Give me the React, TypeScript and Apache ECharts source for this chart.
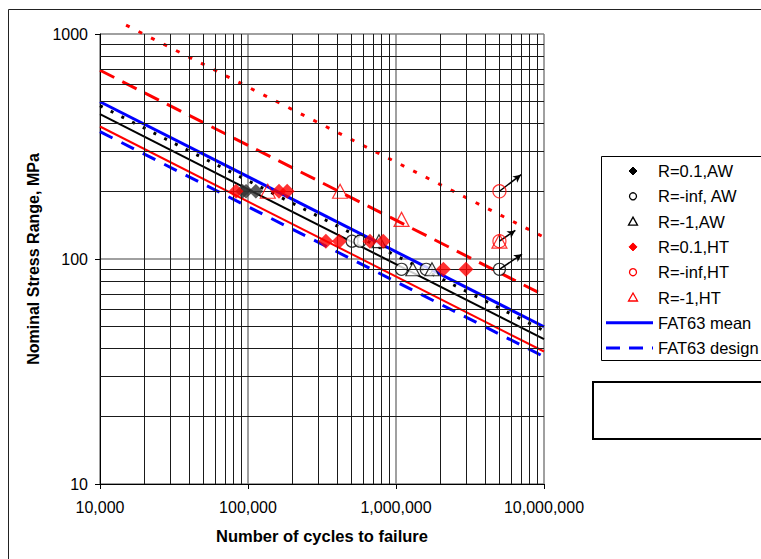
import React, { useEffect, useRef } from "react";
import * as echarts from "echarts";

// ---- data ----
const xDecades = [1e4, 1e5, 1e6];
const yDecades = [10, 100];
const minorMultipliers = [2, 3, 4, 5, 6, 7, 8, 9];

const r01AW = [[92000, 200], [97000, 200], [113000, 200]];
const rInfAW = [[505000, 120], [571000, 120], [1090000, 90], [1600000, 90], [5000000, 90]];
const rm1AW = [[767000, 120], [1300000, 90], [1750000, 90]];
const r01HT = [
  [83000, 200], [162000, 200], [184000, 200],
  [336000, 120], [414000, 120], [667000, 120], [820000, 120],
  [2090000, 90], [2970000, 90],
];
const rInfHT = [[5000000, 200], [5000000, 120]];
const rm1HT = [[136000, 200], [419000, 200], [1090000, 150], [5000000, 120]];

const fat63Mean = [[1e4, 500], [1e7, 50]];
const fat63Design = [[1e4, 368], [1e7, 36.8]];
const awMeanLine = [[1e4, 440], [1e7, 44]];
const awUpperLine = [[1e4, 480], [1e7, 48]];
const htLowerLine = [[1e4, 388], [1e7, 38.8]];
const htDashedLine = [[1e4, 690], [1e7, 69]];
const htDottedLine = [[15000, 1095], [1e7, 125]];

const runoutArrows = [
  [[5e6, 200], [7e6, 237]],
  [[5e6, 120], [6.4e6, 134]],
  [[5e6, 90], [7.1e6, 105]],
];

const legendLabels = [
  "R=0.1,AW",
  "R=-inf, AW",
  "R=-1,AW",
  "R=0.1,HT",
  "R=-inf,HT",
  "R=-1,HT",
  "FAT63 mean",
  "FAT63 design",
];

const FONT = '"Liberation Sans", Arial, sans-serif';

function buildLegend() {
  const els: any[] = [];
  els.push({
    type: "rect",
    shape: { x: 601.5, y: 156.5, width: 220, height: 204 },
    style: { fill: "#fff", stroke: "#000", lineWidth: 1 },
  });
  const kinds = ["diamond", "circle", "triangle", "diamond", "circle", "triangle", "solid", "dashed"];
  const colors = ["#000", "#000", "#000", "#ff0000", "#ff0000", "#ff0000", "#0000ff", "#0000ff"];
  const mx = 633;
  legendLabels.forEach((label, i) => {
    const cy = 171 + i * 25.3;
    const k = kinds[i];
    const c = colors[i];
    if (k === "diamond") {
      els.push({
        type: "polygon",
        shape: { points: [[mx, cy - 4], [mx + 4, cy], [mx, cy + 4], [mx - 4, cy]] },
        style: { fill: c, stroke: c, lineWidth: 1 },
      });
    } else if (k === "circle") {
      els.push({
        type: "circle",
        shape: { cx: mx, cy, r: 3.5 },
        style: { fill: "none", stroke: c, lineWidth: 1.3 },
      });
    } else if (k === "triangle") {
      els.push({
        type: "polygon",
        shape: { points: [[mx, cy - 4.5], [mx + 4.5, cy + 3.5], [mx - 4.5, cy + 3.5]] },
        style: { fill: "none", stroke: c, lineWidth: 1.3 },
      });
    } else {
      els.push({
        type: "line",
        shape: { x1: 606, y1: cy, x2: 653, y2: cy },
        style: { stroke: c, lineWidth: 3, lineDash: k === "dashed" ? [14, 9] : null },
      });
    }
    els.push({
      type: "text",
      x: 658,
      y: cy,
      style: { text: label, fontSize: 16.5, fontFamily: FONT, fill: "#000", verticalAlign: "middle" },
    });
  });
  // empty box
  els.push({
    type: "rect",
    shape: { x: 593, y: 382, width: 220, height: 57 },
    style: { fill: "none", stroke: "#000", lineWidth: 2 },
  });
  // chart area frame
  els.push({
    type: "rect",
    shape: { x: 8.5, y: 9.5, width: 820, height: 620 },
    style: { fill: "none", stroke: "#222", lineWidth: 1 },
  });
  return els;
}

function lineSeries(data: number[][], color: string, width: number, type: any, extra: any = {}) {
  return {
    type: "line",
    data,
    symbol: "none",
    z: 3,
    lineStyle: { color, width, type, cap: "butt" },
    silent: true,
    ...extra,
  };
}

export default function App() {
  const ref = useRef<HTMLDivElement>(null);
  useEffect(() => {
    if (!ref.current) return;
    const chart = echarts.init(ref.current, null, { renderer: "svg" });

    const minorX: number[] = [];
    xDecades.forEach((d) => minorMultipliers.forEach((m) => minorX.push(d * m)));
    const minorY: number[] = [];
    yDecades.forEach((d) => minorMultipliers.forEach((m) => minorY.push(d * m)));

    const hollow = (c: string, fill: string) => ({ color: fill, borderColor: c, borderWidth: 1.2 });

    const option: any = {
      animation: false,
      backgroundColor: "#fff",
      textStyle: { fontFamily: FONT },
      grid: { left: 100, top: 34, right: 217, bottom: 75, containLabel: false, outerBoundsMode: "none" },
      xAxis: {
        type: "log",
        logBase: 10,
        min: 1e4,
        max: 1e7,
        name: "Number of cycles to failure",
        nameLocation: "middle",
        nameGap: 43,
        nameTextStyle: { fontSize: 16.5, fontWeight: "bold", color: "#000", fontFamily: FONT },
        axisLine: { show: true, lineStyle: { color: "#000", width: 1 } },
        axisTick: { show: true, length: 5, lineStyle: { color: "#000" } },
        axisLabel: {
          fontSize: 16,
          color: "#000",
          fontFamily: FONT,
          margin: 15,
          formatter: (v: number) => Math.round(v).toLocaleString("en-US"),
        },
        splitLine: { show: true, lineStyle: { color: "#808080", width: 1.5 } },
      },
      yAxis: {
        type: "log",
        logBase: 10,
        min: 10,
        max: 1000,
        name: "Nominal Stress Range, MPa",
        nameLocation: "middle",
        nameGap: 57,
        nameRotate: 90,
        nameTextStyle: { fontSize: 16, fontWeight: "bold", color: "#000", fontFamily: FONT },
        axisLine: { show: true, lineStyle: { color: "#000", width: 1 } },
        axisTick: { show: true, length: 5, lineStyle: { color: "#000" } },
        axisLabel: {
          fontSize: 16,
          color: "#000",
          fontFamily: FONT,
          margin: 12,
          formatter: (v: number) => String(Math.round(v)),
        },
        splitLine: { show: true, lineStyle: { color: "#808080", width: 1.5 } },
      },
      graphic: buildLegend(),
      series: [
        {
          type: "line",
          data: [],
          z: 1,
          silent: true,
          markLine: {
            silent: true,
            symbol: ["none", "none"],
            label: { show: false },
            lineStyle: { color: "#1a1a1a", width: 1, type: "solid" },
            emphasis: { disabled: true },
            data: [
              ...minorX.map((v) => ({ xAxis: v })),
              ...minorY.map((v) => ({ yAxis: v })),
            ],
          },
        },
        lineSeries(htDottedLine, "#ff0000", 3, [4, 10], { clip: false }),
        lineSeries(htDashedLine, "#ff0000", 3, [16, 9]),
        lineSeries(fat63Mean, "#0000ff", 3, "solid"),
        lineSeries(awUpperLine, "#000", 3, [3, 9]),
        lineSeries(awMeanLine, "#000", 2, "solid"),
        lineSeries(htLowerLine, "#ff0000", 2, "solid"),
        lineSeries(fat63Design, "#0000ff", 3, [14, 10]),
        {
          type: "scatter",
          name: legendLabels[1],
          data: rInfAW,
          symbol: "circle",
          symbolSize: 12,
          z: 4,
          itemStyle: hollow("#000", "#fff"),
        },
        {
          type: "scatter",
          name: legendLabels[2],
          data: rm1AW,
          symbol: "triangle",
          symbolSize: [14, 13],
          z: 4,
          itemStyle: hollow("#000", "#fff"),
        },
        {
          type: "scatter",
          name: legendLabels[0],
          data: r01AW,
          symbol: "diamond",
          symbolSize: 14,
          z: 5,
          itemStyle: { color: "#333", borderColor: "#222", borderWidth: 0.5 },
        },
        {
          type: "scatter",
          name: legendLabels[3],
          data: r01HT,
          symbol: "diamond",
          symbolSize: 15,
          z: 5,
          itemStyle: { color: "#ff0000" },
        },
        {
          type: "scatter",
          name: legendLabels[4],
          data: rInfHT,
          symbol: "circle",
          symbolSize: 13,
          z: 5,
          itemStyle: hollow("#ff0000", "rgba(255,255,255,0)"),
        },
        {
          type: "scatter",
          name: legendLabels[5],
          data: rm1HT,
          symbol: "triangle",
          symbolSize: [15, 14],
          z: 5,
          itemStyle: hollow("#ff0000", "rgba(255,255,255,0)"),
        },
        {
          type: "line",
          data: [],
          z: 6,
          silent: true,
          markLine: {
            silent: true,
            symbol: ["none", "arrow"],
            symbolSize: [6, 8],
            label: { show: false },
            lineStyle: { color: "#000", width: 1.5, type: "solid" },
            emphasis: { disabled: true },
            data: runoutArrows.map(([a, b]) => [{ coord: a }, { coord: b }]),
          },
        },
      ],
    };
    chart.setOption(option);
    return () => chart.dispose();
  }, []);
  return (
    <div
      ref={ref}
      style={{ position: "fixed", left: 0, top: 0, width: 761, height: 559 }}
    />
  );
}
